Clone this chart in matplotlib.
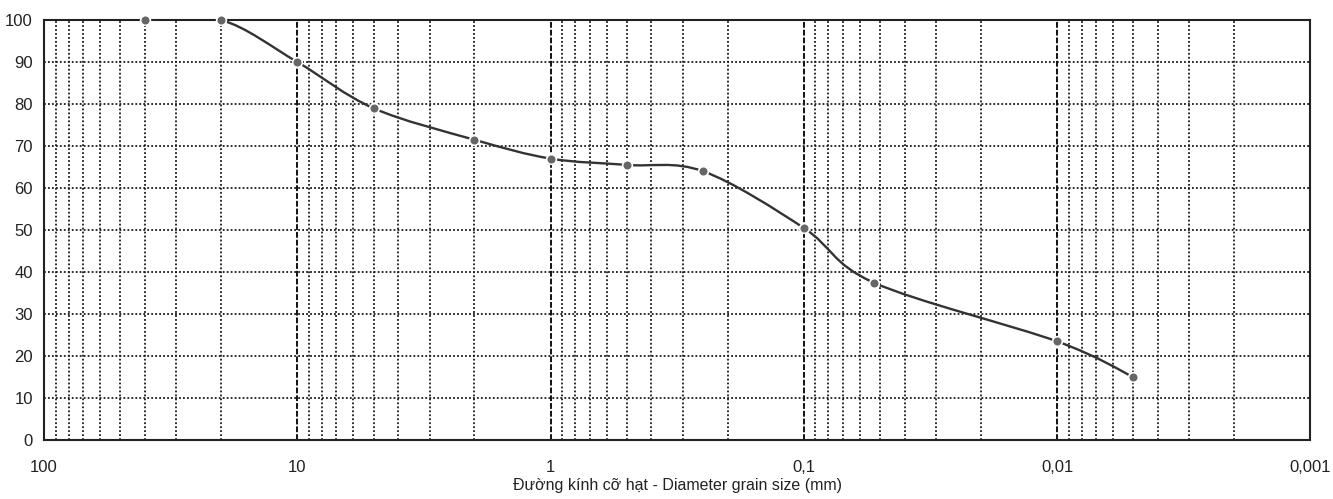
import numpy as np
import matplotlib
matplotlib.use('Agg')
import matplotlib.pyplot as plt
from matplotlib.path import Path
from matplotlib.patches import PathPatch
from matplotlib.ticker import FixedLocator, NullLocator

plt.rcParams['font.family'] = ['Liberation Sans Narrow', 'Liberation Sans', 'DejaVu Sans']

# grain size (mm) and percent passing
diameter = [40, 20, 10, 5, 2, 1, 0.5, 0.25, 0.1, 0.053, 0.01, 0.005]
passing = [100, 100, 90, 79, 71.5, 67, 65.5, 64, 50.5, 37.5, 23.5, 15]

x_ticks = [100, 10, 1, 0.1, 0.01, 0.001]
x_labels = ['100', '10', '1', '0,1', '0,01', '0,001']
y_ticks = list(range(0, 101, 10))
xlabel = 'Đường kính cỡ hạt - Diameter grain size (mm)'


def smooth_path(xs, ys):
    # Excel-like smoothed line: cubic bezier through points in log-x space
    p = np.column_stack([np.log10(xs), ys])
    n = len(p)
    verts = [p[0]]
    codes = [Path.MOVETO]
    for i in range(n - 1):
        p0 = p[i - 1] if i > 0 else p[i]
        p3 = p[i + 2] if i + 2 < n else p[i + 1]
        c1 = p[i] + (p[i + 1] - p0) / 6
        c2 = p[i + 1] - (p3 - p[i]) / 6
        verts += [c1, c2, p[i + 1]]
        codes += [Path.CURVE4] * 3
    verts = np.array(verts)
    verts[:, 0] = 10 ** verts[:, 0]
    return Path(verts, codes)


fig = plt.figure(figsize=(13.33, 4.99), dpi=100)
ax = fig.add_axes([0.033, 0.118, 0.95, 0.842])
ax.set_xscale('log')
ax.set_xlim(100, 0.001)
ax.set_ylim(0, 100)

# grid: dotted minor verticals, dashed decade lines, dotted horizontals
for dec in [0.001, 0.01, 0.1, 1, 10]:
    for m in range(2, 10):
        ax.axvline(dec * m, color='#1a1a1a', lw=1.3, ls=(0, (1, 1.2)), zorder=1)
for d in [10, 1, 0.1, 0.01]:
    ax.axvline(d, color='#111111', lw=1.4, ls=(0, (3, 1)), zorder=1)
for y in y_ticks[1:-1]:
    ax.axhline(y, color='#1a1a1a', lw=1.3, ls=(0, (1, 1.2)), zorder=1)

patch = PathPatch(smooth_path(diameter, passing), fill=False, ec='#333333', lw=1.7, zorder=3)
ax.add_patch(patch)
ax.plot(diameter, passing, ls='none', marker='o', ms=7, mfc='#666666',
        mec='white', mew=1.2, zorder=4, clip_on=False)

ax.xaxis.set_major_locator(FixedLocator(x_ticks))
ax.set_xticklabels(x_labels)
ax.xaxis.set_minor_locator(NullLocator())
ax.set_yticks(y_ticks)
ax.tick_params(length=0, labelsize=12, colors='#222222')
ax.tick_params(axis='x', pad=14)
ax.tick_params(axis='y', pad=8)
ax.set_xlabel(xlabel, fontsize=11.5, color='#222222', va='center')
ax.xaxis.set_label_coords(0.5, -0.108)
for s in ax.spines.values():
    s.set_linewidth(1.5)
    s.set_color('#222222')

fig.savefig('out.png', dpi=100)
